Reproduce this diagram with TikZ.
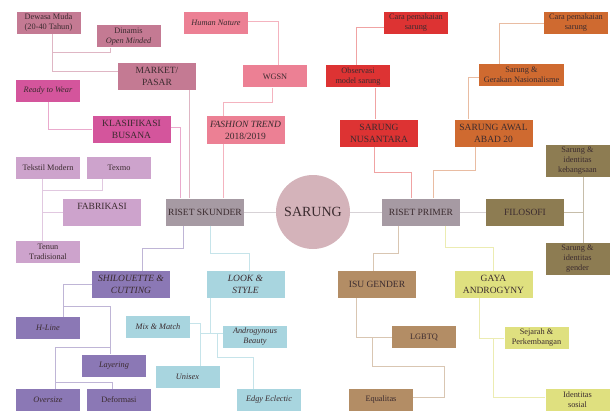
\documentclass[tikz,border=0pt]{standalone}
\usepackage{fontspec}
\setmainfont{Liberation Serif}

\definecolor{txt}{HTML}{3B2B2F}
\definecolor{cMkt}{HTML}{C47A93}
\definecolor{cKls}{HTML}{D4559C}
\definecolor{cTrd}{HTML}{EC8094}
\definecolor{cNus}{HTML}{DD3333}
\definecolor{cAbd}{HTML}{CF6A30}
\definecolor{cFil}{HTML}{8D7C52}
\definecolor{cRst}{HTML}{A69AA3}
\definecolor{cSar}{HTML}{D4B3BA}
\definecolor{cFab}{HTML}{CDA3CC}
\definecolor{cSil}{HTML}{8B78B5}
\definecolor{cLok}{HTML}{A8D5DF}
\definecolor{cIsu}{HTML}{B38D65}
\definecolor{cGay}{HTML}{DFE07F}

\begin{document}
\begin{tikzpicture}[x=1pt,y=-1pt,
    box/.style={rectangle,inner sep=1pt,align=center,text=txt,
                font=\fontsize{8.3}{10}\selectfont,minimum width=64pt,minimum height=22pt},
    main box/.style={box,font=\fontsize{9.5}{12}\selectfont,minimum width=78pt,minimum height=27pt},
    link/.style={line width=0.9pt},
    lMkt/.style={link,draw=cMkt!55},
    lKls/.style={link,draw=cKls!50},
    lTrd/.style={link,draw=cTrd!60},
    lNus/.style={link,draw=cNus!45},
    lAbd/.style={link,draw=cAbd!45},
    lFil/.style={link,draw=cFil!50},
    lRst/.style={link,draw=cRst!45},
    lFab/.style={link,draw=cFab!60},
    lSil/.style={link,draw=cSil!55},
    lLok/.style={link,draw=cLok!65},
    lIsu/.style={link,draw=cIsu!50},
    lGay/.style={link,draw=cGay!60}]

  \useasboundingbox (0,0) rectangle (611,412);

  % centre
  \node[circle,fill=cSar,minimum size=74pt,text=txt,font=\fontsize{14}{16}\selectfont] (sarung) at (313,212) {SARUNG};
  \node[main box,fill=cRst] (skunder) at (205,212) {RISET SKUNDER};
  \node[main box,fill=cRst] (primer) at (421,212) {RISET PRIMER};

  % riset skunder, upper side
  \node[box,fill=cMkt] (dewasa) at (48.5,23) {Dewasa Muda\\(20-40 Tahun)};
  \node[box,fill=cMkt] (dinamis) at (128.5,36.5) {Dinamis\\\textit{Open Minded}};
  \node[main box,fill=cMkt] (market) at (157,76.5) {MARKET/\\PASAR};
  \node[box,fill=cKls] (ready) at (48,91) {\textit{Ready to Wear}};
  \node[main box,fill=cKls] (klasifikasi) at (131.5,129.5) {KLASIFIKASI\\BUSANA};
  \node[box,fill=cTrd] (human) at (216,23) {\textit{Human Nature}};
  \node[box,fill=cTrd] (wgsn) at (275,76.5) {WGSN};
  \node[main box,fill=cTrd] (fashion) at (245.5,130) {\textit{FASHION TREND}\\2018/2019};
  \node[box,fill=cFab] (tekstil) at (48,168) {Tekstil Modern};
  \node[box,fill=cFab] (texmo) at (119,168) {Texmo};
  \node[main box,fill=cFab,text depth=12pt] (fabrikasi) at (102,212) {FABRIKASI};
  \node[box,fill=cFab] (tenun) at (48,252) {Tenun\\Tradisional};

  % riset primer, upper side
  \node[box,fill=cNus] (caraA) at (416,23) {Cara pemakaian\\sarung};
  \node[box,fill=cNus] (observasi) at (358,76.5) {Observasi\\model sarung};
  \node[main box,fill=cNus] (nusantara) at (379,133) {SARUNG\\NUSANTARA};
  \node[box,fill=cAbd] (caraB) at (576,23) {Cara pemakaian\\sarung};
  \node[box,fill=cAbd,minimum width=85pt] (gerakan) at (521.5,75) {Sarung \&\\Gerakan Nasionalisme};
  \node[main box,fill=cAbd] (abad) at (493.5,133) {SARUNG AWAL\\ABAD 20};
  \node[main box,fill=cFil] (filosofi) at (525,212) {FILOSOFI};
  \node[box,fill=cFil,minimum height=32pt] (kebangsaan) at (577.5,161) {Sarung \&\\identitas\\kebangsaan};
  \node[box,fill=cFil,minimum height=32pt] (gender) at (577.5,259) {Sarung \&\\identitas\\gender};

  % riset skunder, lower side
  \node[main box,fill=cSil] (shilouette) at (131,284.5) {\textit{SHILOUETTE \&}\\\textit{CUTTING}};
  \node[box,fill=cSil] (hline) at (48,328) {\textit{H-Line}};
  \node[box,fill=cSil] (layering) at (114,365.5) {\textit{Layering}};
  \node[box,fill=cSil] (oversize) at (48,400) {\textit{Oversize}};
  \node[box,fill=cSil] (deformasi) at (119,400) {Deformasi};
  \node[main box,fill=cLok] (look) at (245.5,284.5) {\textit{LOOK \&}\\\textit{STYLE}};
  \node[box,fill=cLok] (mix) at (158,327) {\textit{Mix \& Match}};
  \node[box,fill=cLok] (androgynous) at (255,337) {\textit{Androgynous}\\\textit{Beauty}};
  \node[box,fill=cLok] (unisex) at (187.5,377) {\textit{Unisex}};
  \node[box,fill=cLok] (edgy) at (269,400) {\textit{Edgy Eclectic}};

  % riset primer, lower side
  \node[main box,fill=cIsu] (isu) at (377,284.5) {ISU GENDER};
  \node[box,fill=cIsu] (lgbtq) at (424,337) {LGBTQ};
  \node[box,fill=cIsu] (equalitas) at (381,400) {Equalitas};
  \node[main box,fill=cGay] (gaya) at (493.5,284.5) {GAYA\\ANDROGYNY};
  \node[box,fill=cGay] (sejarah) at (536.5,338) {Sejarah \&\\Perkembangan};
  \node[box,fill=cGay] (identitas) at (577.5,400) {Identitas\\sosial};

  % bends and joins
  \coordinate (mktjoin) at (52,52);
  \coordinate (trdbend) at (223,102);
  \coordinate (nusbend) at (411,172);
  \coordinate (abdbend) at (433,170);
  \coordinate (filjoin) at (583,212);
  \coordinate (fabjoin) at (42,190);
  \coordinate (silbend) at (142,248);
  \coordinate (lokbend) at (249,253);
  \coordinate (isubend) at (373,253);
  \coordinate (gaybend) at (493,247);
  \coordinate (hjoin) at (63,306);
  \coordinate (layjoin) at (110,347);
  \coordinate (ovjoin) at (55,382);
  \coordinate (lokjoin) at (210,333);
  \coordinate (mixjoin) at (200,333);
  \coordinate (edgjoin) at (217,333);
  \coordinate (edgbend) at (253,357);
  \coordinate (isujoin) at (372,337);
  \coordinate (eqbend) at (444,366);
  \coordinate (gayjoin) at (493,338);

  \draw[lMkt] (dewasa.south -| 52,0) |- ([yshift=5pt]market.west);
  \draw[lMkt] (dinamis.south -| 110,0) |- (mktjoin);
  \draw[lMkt] (market.south -| 189,0) -- (skunder.north -| 189,0);
  \draw[lKls] (ready.south) |- (klasifikasi.west);
  \draw[lKls] ([yshift=2pt]klasifikasi.east) -| (skunder.north -| 180,0);
  \draw[lTrd] ([yshift=2pt]human.east) -| ([xshift=3pt]wgsn.north);
  \draw[lTrd] (wgsn.south -| 272,0) |- (trdbend) -- (fashion.north -| trdbend);
  \draw[lTrd] (fashion.south -| trdbend) -- (skunder.north -| trdbend);
  \draw[lFab] (tekstil.south -| 42,0) -- (tenun.north -| 42,0);
  \draw[lFab] (texmo.south -| 102,0) |- (fabjoin);
  \draw[lFab] (fabrikasi.west) -- (fabrikasi.west -| fabjoin);

  \draw[lNus] ([yshift=-4pt]caraA.west) -| (observasi.north -| 356,0);
  \draw[lNus] (observasi.south -| 375,0) -- (nusantara.north -| 375,0);
  \draw[lNus] (nusantara.south -| 374,0) |- (nusbend) -- (primer.north -| nusbend);
  \draw[lAbd] (caraB.west) -| (gerakan.north -| 499,0);
  \draw[lAbd] ([yshift=-2pt]gerakan.west) -| (abad.north -| 468,0);
  \draw[lAbd] (abad.south -| 475,0) |- (abdbend) -- (primer.north -| abdbend);
  \draw[lFil] (filosofi.east) -- (filjoin);
  \draw[lFil] (kebangsaan.south -| filjoin) -- (gender.north -| filjoin);

  \draw[lRst] (skunder.east) -- (sarung.west);
  \draw[lRst] (sarung.east) -- (primer.west);
  \draw[lRst] (primer.east) -- (filosofi.west);

  \draw[lSil] (skunder.south -| 183,0) |- (silbend) -- (shilouette.north -| silbend);
  \draw[lSil] (shilouette.west) -| (hline.north -| 63,0);
  \draw[lSil] (hjoin) -| (layering.north -| layjoin);
  \draw[lSil] (layjoin) -| (oversize.north -| 55,0);
  \draw[lSil] (ovjoin) -| (deformasi.north -| 112,0);
  \draw[lLok] (skunder.south -| 210,0) |- (lokbend) -- (look.north -| lokbend);
  \draw[lLok] (look.south -| lokjoin) -- (lokjoin);
  \draw[lLok] ([yshift=4pt]mix.east) -| (unisex.north -| mixjoin);
  \draw[lLok] (mixjoin) -- ([yshift=4pt]androgynous.west);
  \draw[lLok] (edgjoin) |- (edgbend) -- (edgy.north -| edgbend);

  \draw[lIsu] (primer.south -| 398,0) |- (isubend) -- (isu.north -| isubend);
  \draw[lIsu] (isu.south -| 356,0) |- (lgbtq.west);
  \draw[lIsu] (isujoin) |- (eqbend) |- ([yshift=3pt]equalitas.east);
  \draw[lGay] (primer.south -| 445,0) |- (gaybend) -- (gaya.north -| gaybend);
  \draw[lGay] (gaya.south -| 479,0) |- (sejarah.west);
  \draw[lGay] (gayjoin) |- ([yshift=3pt]identitas.west);
\end{tikzpicture}
\end{document}
